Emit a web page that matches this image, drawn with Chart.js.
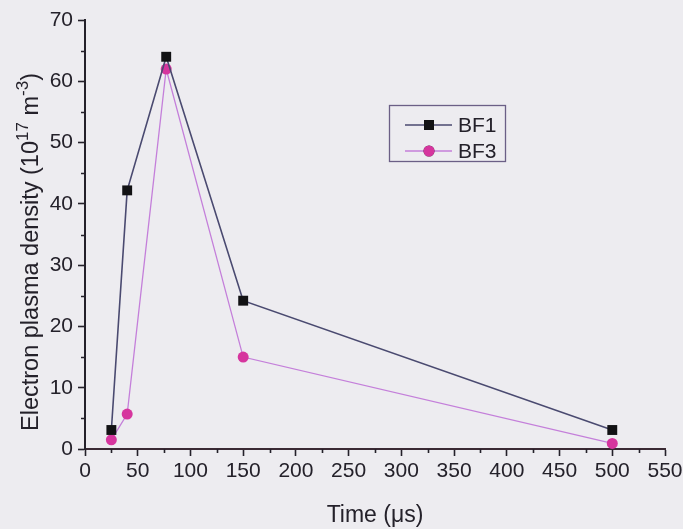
<!DOCTYPE html>
<html>
<head>
<meta charset="utf-8">
<script src="https://cdn.jsdelivr.net/npm/chart.js@4/dist/chart.umd.min.js"></script>
<style>
  html, body { margin: 0; padding: 0; background: #edecf0; }
  #wrap { width: 683px; height: 529px; position: relative; }
</style>
</head>
<body>
<div id="wrap"><canvas id="c" width="683" height="529"></canvas></div>
<script>
// Sampling times (µs) and measured densities (10^17 m^-3)
const times = [25, 40, 77, 150, 500];
const bf1 = [3.1, 42.2, 64.0, 24.2, 3.1];
const bf3 = [1.5, 5.7, 62.0, 15.0, 0.9];
const seriesNames = ['BF1', 'BF3'];
const xTicks = [0, 50, 100, 150, 200, 250, 300, 350, 400, 450, 500, 550];
const yTicks = [0, 10, 20, 30, 40, 50, 60, 70];

const FONT = '"Liberation Sans", Arial, sans-serif';
const INK = '#24212a';
const BG = '#edecf0';

const toPoints = (ys) => times.map((t, i) => ({ x: t, y: ys[i] }));

// Paint page background
const bgPlugin = {
  id: 'bg',
  beforeDraw(chart) {
    const { ctx, width, height } = chart;
    ctx.save();
    ctx.fillStyle = BG;
    ctx.fillRect(0, 0, width, height);
    ctx.restore();
  }
};

// Short minor ticks half way between the labelled ones
const minorTicks = {
  id: 'minorTicks',
  afterDraw(chart) {
    const { ctx, scales: { x, y }, chartArea: a } = chart;
    ctx.save();
    ctx.strokeStyle = INK;
    ctx.lineWidth = 1.6;
    ctx.beginPath();
    for (let i = 0; i < xTicks.length - 1; i++) {
      const v = (xTicks[i] + xTicks[i + 1]) / 2;
      const px = Math.round(x.getPixelForValue(v)) + 0.5;
      ctx.moveTo(px, a.bottom);
      ctx.lineTo(px, a.bottom + 4);
    }
    for (let i = 0; i < yTicks.length - 1; i++) {
      const v = (yTicks[i] + yTicks[i + 1]) / 2;
      const py = Math.round(y.getPixelForValue(v)) + 0.5;
      ctx.moveTo(a.left, py);
      ctx.lineTo(a.left - 4, py);
    }
    ctx.stroke();
    ctx.restore();
  }
};

// Rotated y title with superscript exponents
const yTitle = {
  id: 'yTitle',
  afterDraw(chart) {
    const { ctx } = chart;
    const parts = [
      { t: 'Electron plasma density (10', s: 23.5, up: 0 },
      { t: '17', s: 17, up: 10 },
      { t: ' m', s: 23.5, up: 0 },
      { t: '-3', s: 17, up: 10 },
      { t: ')', s: 23.5, up: 0 }
    ];
    ctx.save();
    let total = 0;
    parts.forEach(p => { ctx.font = p.s + 'px ' + FONT; total += ctx.measureText(p.t).width; });
    ctx.translate(38, 252);
    ctx.rotate(-Math.PI / 2);
    ctx.fillStyle = INK;
    ctx.textBaseline = 'alphabetic';
    let xx = -total / 2;
    parts.forEach(p => {
      ctx.font = p.s + 'px ' + FONT;
      ctx.fillText(p.t, xx, -p.up);
      xx += ctx.measureText(p.t).width;
    });
    ctx.restore();
  }
};

// Boxed legend inside the plot
const boxLegend = {
  id: 'boxLegend',
  afterDraw(chart) {
    const { ctx } = chart;
    const bx = 389, by = 105, bw = 116, bh = 56;
    ctx.save();
    ctx.strokeStyle = '#6b5f86';
    ctx.lineWidth = 1.3;
    ctx.strokeRect(bx + 0.5, by + 0.5, bw, bh);
    chart.data.datasets.forEach((ds, i) => {
      const cy = by + 20 + i * 26;
      ctx.strokeStyle = ds.borderColor;
      ctx.lineWidth = ds.borderWidth;
      ctx.beginPath();
      ctx.moveTo(bx + 16, cy);
      ctx.lineTo(bx + 63, cy);
      ctx.stroke();
      Chart.helpers.drawPoint(ctx, {
        pointStyle: ds.pointStyle,
        radius: ds.pointRadius,
        borderWidth: 0,
        rotation: 0
      }, bx + 40, cy);
      ctx.fillStyle = ds.pointBackgroundColor;
      ctx.fill();
      ctx.fillStyle = INK;
      ctx.font = '21px ' + FONT;
      ctx.textBaseline = 'middle';
      ctx.fillText(ds.label, bx + 69, cy + 1);
    });
    ctx.restore();
  }
};

new Chart(document.getElementById('c'), {
  type: 'scatter',
  data: {
    datasets: [
      {
        label: seriesNames[0],
        data: toPoints(bf1),
        showLine: true,
        borderColor: '#4a4a70',
        borderWidth: 1.6,
        pointStyle: 'rect',
        pointRadius: 7,
        pointBorderWidth: 0,
        pointBackgroundColor: '#121214',
        backgroundColor: '#121214'
      },
      {
        label: seriesNames[1],
        data: toPoints(bf3),
        showLine: true,
        borderColor: '#c47fda',
        borderWidth: 1.3,
        pointStyle: 'circle',
        pointRadius: 5.5,
        pointBorderWidth: 0,
        pointBackgroundColor: '#d6359e',
        backgroundColor: '#d6359e'
      }
    ]
  },
  options: {
    responsive: false,
    animation: false,
    layout: { padding: { left: 0, right: 18, top: 20, bottom: 0 } },
    plugins: { legend: { display: false }, tooltip: { enabled: false } },
    scales: {
      x: {
        type: 'linear',
        min: 0, max: 550,
        afterBuildTicks(s) { s.ticks = xTicks.map(v => ({ value: v })); },
        afterFit(s) { s.height = 80; s.paddingLeft = 0; s.paddingRight = 0; },
        grid: { drawOnChartArea: false, drawTicks: true, tickLength: 7, tickColor: INK, tickWidth: 1.6 },
        border: { display: true, color: '#3a2a34', width: 2 },
        ticks: { color: INK, font: { family: FONT, size: 21 }, padding: 3, maxRotation: 0, autoSkip: false },
        title: { display: true, text: 'Time (\u03bcs)', color: INK, font: { family: FONT, size: 23 }, padding: { top: 12, bottom: 0 } }
      },
      y: {
        type: 'linear',
        min: 0, max: 70,
        afterBuildTicks(s) { s.ticks = yTicks.map(v => ({ value: v })); },
        afterFit(s) { s.width = 85; },
        grid: { drawOnChartArea: false, drawTicks: true, tickLength: 7, tickColor: INK, tickWidth: 1.6 },
        border: { display: true, color: INK, width: 2 },
        ticks: { color: INK, font: { family: FONT, size: 21 }, padding: 5 }
      }
    }
  },
  plugins: [bgPlugin, minorTicks, yTitle, boxLegend]
});
</script>
</body>
</html>
